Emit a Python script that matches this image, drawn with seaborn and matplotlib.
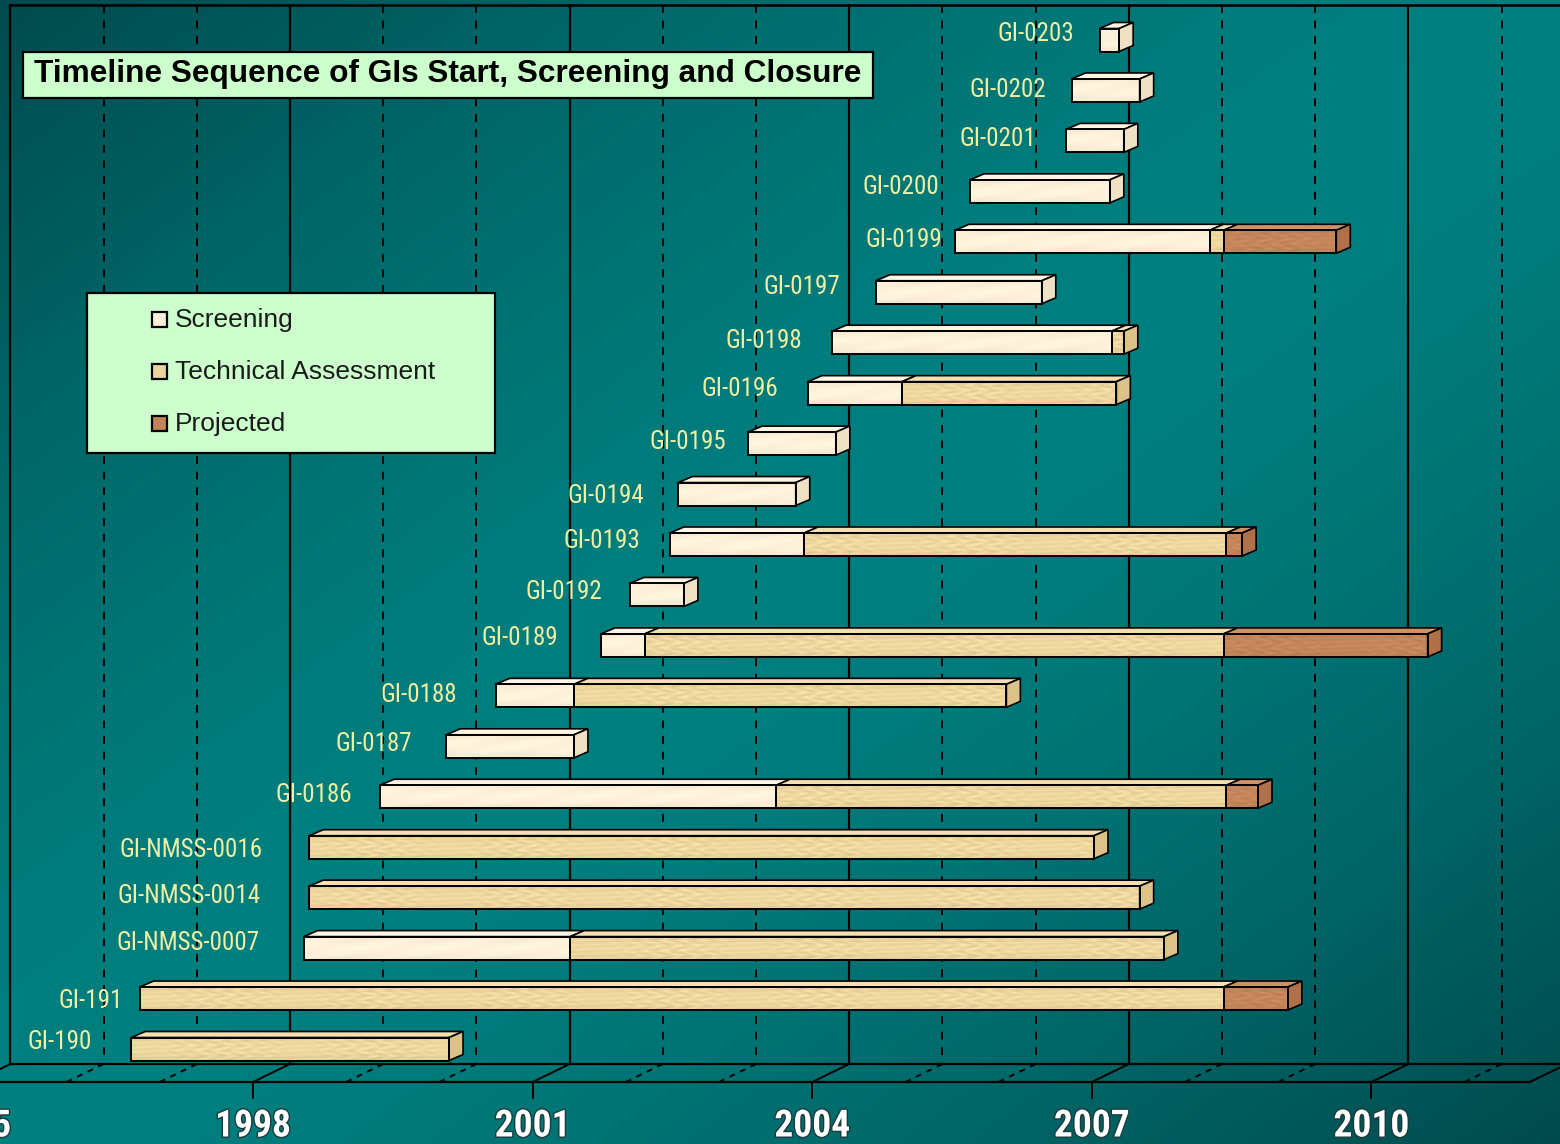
import numpy as np
import matplotlib
matplotlib.use("Agg")
import matplotlib.pyplot as plt
import matplotlib.patheffects as pe
import seaborn as sns
from matplotlib.patches import Polygon
from matplotlib import font_manager


# ==========================================================
# DATA  (years)
# ==========================================================

gi_ids = [
    "GI-0203", "GI-0202", "GI-0201", "GI-0200", "GI-0199", "GI-0197",
    "GI-0198", "GI-0196", "GI-0195", "GI-0194", "GI-0193", "GI-0192",
    "GI-0189", "GI-0188", "GI-0187", "GI-0186", "GI-NMSS-0016",
    "GI-NMSS-0014", "GI-NMSS-0007", "GI-191", "GI-190",
]

gi_start = [
    2006.96, 2006.66, 2006.60, 2005.57, 2005.41, 2004.56,
    2004.09, 2003.83, 2003.19, 2002.44, 2002.35, 2001.92,
    2001.61, 2000.48, 1999.95, 1999.24, 1998.48,
    1998.48, 1998.42, 1996.66, 1996.57,
]

screening_end = [
    2007.17, 2007.39, 2007.22, 2007.07, 2008.14, 2006.34,
    2007.09, 2004.84, 2004.13, 2003.70, 2003.79, 2002.50,
    2002.08, 2001.32, 2001.32, 2003.49, 1998.48,
    1998.48, 2001.28, 1996.66, 1996.57,
]

assessment_end = [
    2007.17, 2007.39, 2007.22, 2007.07, 2008.29, 2006.34,
    2007.22, 2007.14, 2004.13, 2003.70, 2008.32, 2002.50,
    2008.29, 2005.96, 2001.32, 2008.32, 2006.90,
    2007.39, 2007.65, 2008.29, 1999.98,
]

closure = [
    2007.17, 2007.39, 2007.22, 2007.07, 2009.50, 2006.34,
    2007.22, 2007.14, 2004.13, 2003.70, 2008.49, 2002.50,
    2010.48, 2005.96, 2001.32, 2008.66, 2006.90,
    2007.39, 2007.65, 2008.98, 1999.98,
]

phase_names = ["Screening", "Technical Assessment", "Projected"]

year_ticks = [1995, 1998, 2001, 2004, 2007, 2010]

title = "Timeline Sequence of GIs Start, Screening and Closure"


# ==========================================================
# STYLE
# ==========================================================

sns.set_style("white")

font_names = {f.name for f in font_manager.fontManager.ttflist}
NARROW = None
for cand in ["Liberation Sans Narrow", "Roboto Condensed", "DejaVu Sans Condensed",
             "Open Sans Condensed"]:
    if cand in font_names:
        NARROW = cand
        break

plt.rcParams["font.family"] = ["Liberation Sans", "DejaVu Sans"]

if NARROW is None:
    NARROW = "Liberation Sans"
    label_size, year_size = 15.5, 23.5
else:
    label_size, year_size = 18, 27

# label gap (px, left of bar) and vertical nudge (px), hand placed in the original
label_gap = [25, 25, 30, 31, 13, 36, 30, 30, 22, 34, 30, 28, 43, 39, 34, 28, 47, 49, 44, 17, 39]
label_dy = [-6, 0, -2, -4, -2, -5, -2, -4, -2, 2, -4, -3, -7, -1, -2, -2, 3, -2, -5, 2, -7]

face_colors = {
    "Screening": ("#fcefd9", "#fff5e4", "#f1e1c4"),
    "Technical Assessment": ("#ecd49e", "#f3dfb0", "#dcc188"),
    "Projected": ("#c3845a", "#cf9266", "#b0714a"),
}

W, H = 1560, 1144
PX_YEAR = 93.2
ROW0, ROW_PX = 40.0, 50.45

X0 = 1998 - 253 / PX_YEAR
X1 = X0 + W / PX_YEAR
PX = 1 / PX_YEAR
PY = 1 / ROW_PX

BACK = 37 * PX          # depth of the floor
BAR_SHIFT = 11.5 * PX   # bars sit a little behind the front edge
BAR_H = 23              # px
DX, DY = 14, 6          # px, bar depth
XEND = 2011.7


def ypx(p):
    return (p - ROW0) / ROW_PX


def xpx(p):
    return X0 + p * PX


def box(px0, py0, px1, py1, **kw):
    pts = [(xpx(px0), ypx(py0)), (xpx(px1), ypx(py0)),
           (xpx(px1), ypx(py1)), (xpx(px0), ypx(py1))]
    return Polygon(pts, closed=True, **kw)


def texture(x0, x1, kind, base):

    w = max(int(round((x1 - x0) / PX)), 2)
    h = BAR_H
    xs = np.arange(w) + (x0 - X0) / PX
    ys = np.arange(h)
    X, Y = np.meshgrid(xs, ys)

    if kind == "Screening":
        f = 1 + 0.012 * np.sin(X * 0.08 + Y * 0.4)
    else:
        f = (1
             + 0.035 * np.sin(X * 0.33 + 2.5 * np.sin(Y * 0.6)) * np.sin(X * 0.021)
             + 0.02 * np.sin(Y * 1.4 + X * 0.05))

    f = f * (1.02 - 0.05 * ((Y / h - 0.45) * 2) ** 2)

    rgb = np.array(matplotlib.colors.to_rgb(base))
    return np.clip(rgb[None, None, :] * f[..., None], 0, 1)


# ==========================================================
# FIGURE
# ==========================================================

fig = plt.figure(figsize=(15.6, 11.44), dpi=100)
ax = fig.add_axes([0, 0, 1, 1])

# background gradient
gx, gy = np.meshgrid(np.linspace(0, 1, 400), np.linspace(0, 1, 300))
b = 1 - np.clip(np.abs(gx + gy - 1.0), 0, 1) ** 1.5
dark = np.array([0.0, 0.29, 0.30])
light = np.array([0.0, 0.50, 0.50])
ax.imshow(dark + (light - dark) * b[..., None],
          extent=(X0, X1, ypx(H), ypx(0)), aspect="auto", zorder=0)

# --------------------------------------
# WALL, FLOOR, AXIS
# --------------------------------------

wall_top, wall_bot, floor_front = ypx(5), ypx(1064), ypx(1082)

for yr in range(1995, 2012):
    major = (yr - 1995) % 3 == 0
    ax.plot([yr + BACK, yr + BACK], [wall_top, wall_bot], color="black",
            lw=1.6 if major else 1.4, ls="-" if major else (0, (4, 4)), zorder=1)
    ax.plot([yr, yr + BACK], [floor_front, wall_bot], color="black",
            lw=1.4, ls="-" if major else (0, (3, 3)), zorder=1)

ax.plot([1995 + BACK, X1], [wall_top, wall_top], color="black", lw=1.8, zorder=1)
ax.plot([1995 + BACK, X1], [wall_bot, wall_bot], color="black", lw=1.6, zorder=1)
ax.plot([X0 - 1, XEND], [floor_front, floor_front], color="black", lw=1.6, zorder=1)
ax.plot([XEND, XEND + BACK], [floor_front, wall_bot], color="black", lw=1.4, zorder=1)

for yr in year_ticks:
    ax.plot([yr, yr], [floor_front, ypx(1098)], color="black", lw=1.4, zorder=1)
    ax.text(yr, ypx(1126), str(yr), ha="center", va="center", color="white",
            fontsize=year_size, fontweight="bold", family=[NARROW, "DejaVu Sans"],
            path_effects=[pe.withStroke(linewidth=2, foreground="#1c3c3c")],
            zorder=5)

# --------------------------------------
# BARS
# --------------------------------------

for i, name in enumerate(gi_ids):

    bounds = [gi_start[i], screening_end[i], assessment_end[i], closure[i]]
    top = i - BAR_H / 2 * PY
    bot = i + BAR_H / 2 * PY
    last = None

    for k, phase in enumerate(phase_names):

        x0 = bounds[k] + BAR_SHIFT
        x1 = bounds[k + 1] + BAR_SHIFT
        if x1 - x0 < 1e-6:
            continue

        front, upper, side = face_colors[phase]

        ax.add_patch(Polygon(
            [(x0, top), (x1, top), (x1 + DX * PX, top - DY * PY), (x0 + DX * PX, top - DY * PY)],
            closed=True, facecolor=upper, edgecolor="black", lw=1.2, zorder=3))

        ax.imshow(texture(x0, x1, phase, front), extent=(x0, x1, bot, top),
                  aspect="auto", interpolation="bilinear", zorder=3)

        ax.add_patch(Polygon(
            [(x0, top), (x1, top), (x1, bot), (x0, bot)],
            closed=True, fill=False, edgecolor="black", lw=1.4, zorder=4))

        last = (x1, side)

    if last is not None:
        x1, side = last
        ax.add_patch(Polygon(
            [(x1, top), (x1 + DX * PX, top - DY * PY),
             (x1 + DX * PX, bot - DY * PY), (x1, bot)],
            closed=True, facecolor=side, edgecolor="black", lw=1.2, zorder=3))

    ax.text(gi_start[i] + BAR_SHIFT - label_gap[i] * PX, i + label_dy[i] * PY, name,
            ha="right", va="center", color="#f2eea2", fontsize=label_size,
            family=[NARROW, "DejaVu Sans"], zorder=5)

# --------------------------------------
# TITLE
# --------------------------------------

ax.add_patch(box(23, 52, 873, 98, facecolor="#ccffcc", edgecolor="black", lw=1.6, zorder=6))
ax.text(xpx(448), ypx(74), title, ha="center", va="center", color="black",
        fontsize=22.8, fontweight="bold", zorder=7)

# --------------------------------------
# LEGEND
# --------------------------------------

ax.add_patch(box(87, 293, 495, 453, facecolor="#ccffcc", edgecolor="black", lw=1.6, zorder=6))

for k, phase in enumerate(phase_names):
    cy = 320 + k * 52
    ax.add_patch(box(152, cy - 8, 167, cy + 7, facecolor=face_colors[phase][0],
                     edgecolor="black", lw=1.6, zorder=7))
    ax.text(xpx(175), ypx(cy), phase, ha="left", va="center", color="#1a1a1a",
            fontsize=19, zorder=7)

ax.set_xlim(X0, X1)
ax.set_ylim(ypx(H), ypx(0))
ax.axis("off")

plt.savefig("out.png", dpi=100)
plt.close()
